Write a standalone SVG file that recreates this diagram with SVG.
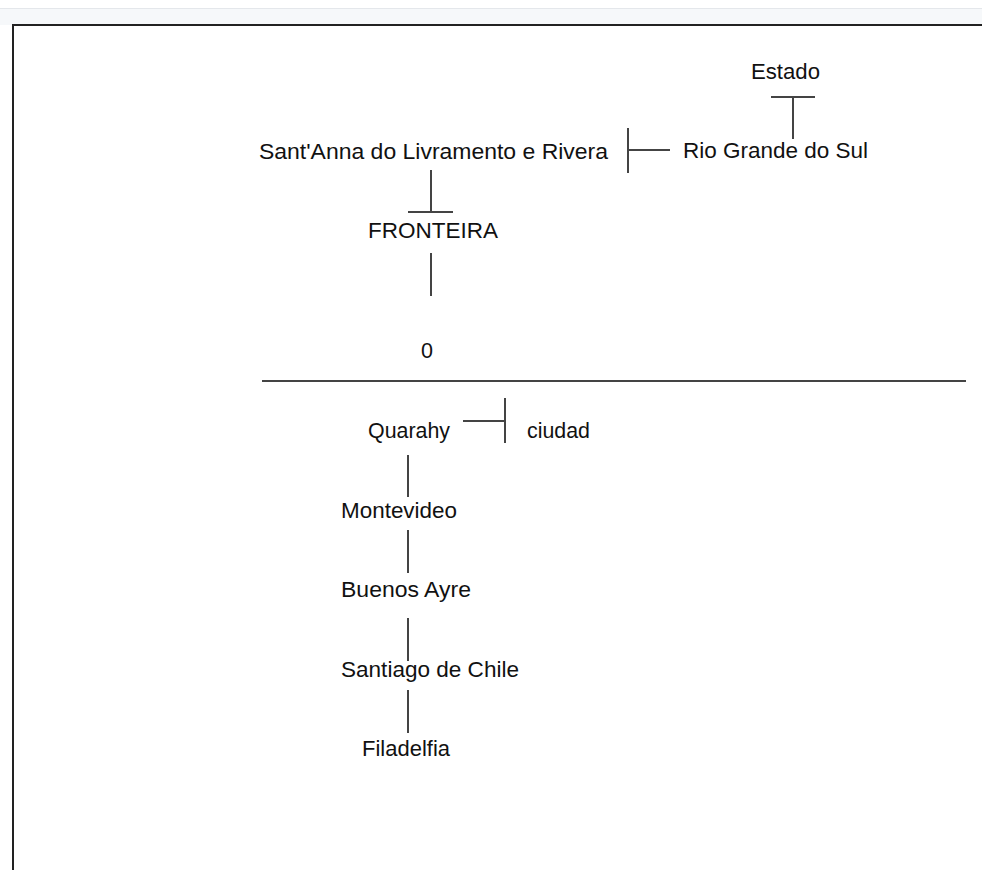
<svg xmlns="http://www.w3.org/2000/svg" width="982" height="870" viewBox="0 0 982 870">
<style>
  .t { font-family: "Liberation Sans", Arial, sans-serif; font-size: 22px; fill: #111; }
  .c { stroke: #444; stroke-width: 2; fill: none; }
  .frame { stroke: #222; stroke-width: 2; fill: #fff; }
</style>
<rect x="0" y="0" width="982" height="870" fill="#ffffff"/>
<rect x="0" y="9" width="982" height="16" fill="#f6f8fa"/>
<line x1="0" y1="8.5" x2="982" y2="8.5" stroke="#e4e7eb" stroke-width="1"/>
<path class="frame" d="M13 871 V25 H983"/>
<g id="connectors">
  <line class="c" x1="793" y1="97" x2="793" y2="139"/>
  <line class="c" x1="771" y1="97" x2="815" y2="97"/>
  <line class="c" x1="628" y1="128" x2="628" y2="173"/>
  <line class="c" x1="628" y1="150" x2="670" y2="150"/>
  <line class="c" x1="431" y1="170" x2="431" y2="212"/>
  <line class="c" x1="408" y1="212" x2="453" y2="212"/>
  <line class="c" x1="431" y1="253" x2="431" y2="296"/>
  <line class="c" x1="262" y1="381" x2="966" y2="381"/>
  <line class="c" x1="463" y1="421" x2="505" y2="421"/>
  <line class="c" x1="505" y1="398" x2="505" y2="443"/>
  <line class="c" x1="408" y1="455" x2="408" y2="497"/>
  <line class="c" x1="408" y1="530" x2="408" y2="573"/>
  <line class="c" x1="408" y1="618" x2="408" y2="661"/>
  <line class="c" x1="408" y1="690" x2="408" y2="733"/>
</g>
<g id="estado"><text class="t" x="751" y="79" textLength="69" lengthAdjust="spacingAndGlyphs">Estado</text></g>
<g id="santanna"><text class="t" x="259" y="159" textLength="349" lengthAdjust="spacingAndGlyphs">Sant'Anna do Livramento e Rivera</text></g>
<g id="riogrande"><text class="t" x="683" y="158" textLength="185" lengthAdjust="spacingAndGlyphs">Rio Grande do Sul</text></g>
<g id="fronteira"><text class="t" x="368" y="238" textLength="130" lengthAdjust="spacingAndGlyphs">FRONTEIRA</text></g>
<g id="zero"><text class="t" x="421" y="358" textLength="12" lengthAdjust="spacingAndGlyphs">0</text></g>
<g id="quarahy"><text class="t" x="368" y="438" textLength="82" lengthAdjust="spacingAndGlyphs">Quarahy</text></g>
<g id="ciudad"><text class="t" x="527" y="438" textLength="63" lengthAdjust="spacingAndGlyphs">ciudad</text></g>
<g id="montevideo"><text class="t" x="341" y="518" textLength="116" lengthAdjust="spacingAndGlyphs">Montevideo</text></g>
<g id="buenosayre"><text class="t" x="341" y="597" textLength="130" lengthAdjust="spacingAndGlyphs">Buenos Ayre</text></g>
<g id="santiago"><text class="t" x="341" y="677" textLength="178" lengthAdjust="spacingAndGlyphs">Santiago de Chile</text></g>
<g id="filadelfia"><text class="t" x="362" y="756" textLength="88" lengthAdjust="spacingAndGlyphs">Filadelfia</text></g>
</svg>
